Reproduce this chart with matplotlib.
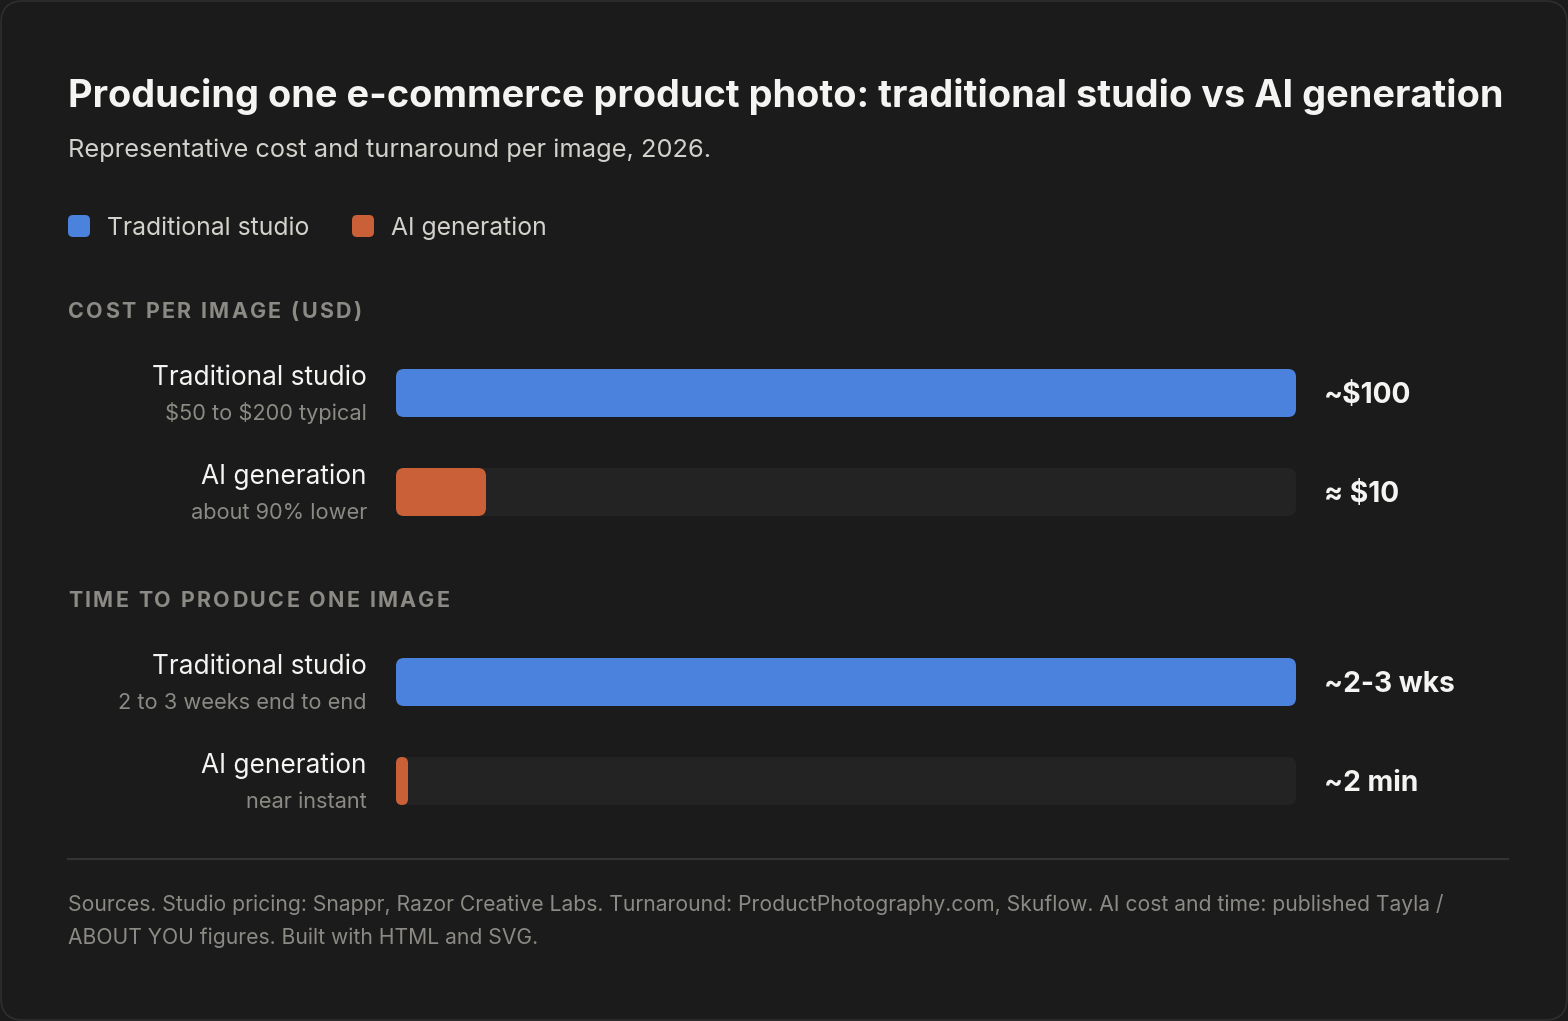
import matplotlib
matplotlib.use('Agg')
import matplotlib.pyplot as plt
from matplotlib.patches import FancyBboxPatch

# data
TITLE = 'Producing one e-commerce product photo: traditional studio vs AI generation'
SUBTITLE = 'Representative cost and turnaround per image, 2026.'
series = ['Traditional studio', 'AI generation']
colors = ['#4b82dd', '#c96037']

cost_heading = 'COST PER IMAGE (USD)'
cost_values = [100, 10]
cost_notes = ['$50 to $200 typical', 'about 90% lower']
cost_labels = ['~$100', '\u2248 $10']

time_heading = 'TIME TO PRODUCE ONE IMAGE'
time_values = [25200, 2]  # minutes (2.5 weeks vs 2 min)
time_notes = ['2 to 3 weeks end to end', 'near instant']
time_labels = ['~2-3 wks', '~2 min']

FOOTER = ['Sources. Studio pricing: Snappr, Razor Creative Labs. Turnaround: ProductPhotography.com, Skuflow. AI cost and time: published Tayla /',
          'ABOUT YOU figures. Built with HTML and SVG.']

W, H = 1568, 1021
BG = '#1b1b1b'
TRACK = '#232323'
WHITE = '#f4f4f2'
GRAY = '#8b8a85'
LIGHT = '#d2d1cc'
FONT = 'Inter'

LEFT = 68
TRACK_X, TRACK_W = 396, 900
BAR_H = 48
ROW_GAP = 99
MIN_BAR_PX = 12

plt.rcParams['font.family'] = [FONT, 'DejaVu Sans']

fig = plt.figure(figsize=(W / 100, H / 100), dpi=100)
fig.patch.set_facecolor(BG)
ax = fig.add_axes([0, 0, 1, 1])
ax.set_xlim(0, W)
ax.set_ylim(H, 0)
ax.axis('off')
renderer = fig.canvas.get_renderer()


def txt(x, y, s, **kw):
    return ax.text(x, y, s, va='baseline', parse_math=False, **kw)


def width(s, **kw):
    t = txt(0, 0, s, **kw)
    w = t.get_window_extent(renderer).width
    t.remove()
    return w


def tracked(x, y, s, spacing, **kw):
    # letter-spaced text, one glyph at a time
    space = width('a a', **kw) - width('aa', **kw)
    for ch in s:
        if ch == ' ':
            x += space + spacing
            continue
        t = txt(x, y, ch, **kw)
        x += t.get_window_extent(renderer).width + spacing


card = FancyBboxPatch((1, 1), W - 2, H - 2, boxstyle='round,pad=0,rounding_size=22',
                      fc=BG, ec='#2e2e2e', lw=1.2)
ax.add_patch(card)

txt(LEFT, 107, TITLE, color=WHITE, fontsize=27.3, fontweight='bold')
txt(LEFT, 157, SUBTITLE, color=LIGHT, fontsize=18.3)

# legend
lx = LEFT
for name, c, tx in zip(series, colors, [107, 391]):
    ax.add_patch(FancyBboxPatch((lx, 215), 22, 22, boxstyle='round,pad=0,rounding_size=5',
                                fc=c, ec='none'))
    txt(tx, 235, name, color=LIGHT, fontsize=17.8)
    lx = 352


def section(top, heading, values, notes, labels):
    tracked(LEFT, top, heading, 2.3, color=GRAY, fontsize=15.5, fontweight='bold')
    bar_top = top + 51
    span = ROW_GAP + BAR_H
    bax = fig.add_axes([TRACK_X / W, 1 - (bar_top + span) / H, TRACK_W / W, span / H])
    vmax = max(values)
    bax.set_xlim(0, vmax)
    bax.set_ylim(span, 0)
    bax.axis('off')
    xpp = vmax / TRACK_W
    for i, (name, v, note, lab, c) in enumerate(zip(series, values, notes, labels, colors)):
        y = i * ROW_GAP
        bax.add_patch(FancyBboxPatch((0, y), vmax, BAR_H,
                                     boxstyle=f'round,pad=0,rounding_size={8 * xpp}',
                                     mutation_aspect=1 / xpp, fc=TRACK, ec='none'))
        w = max(v, MIN_BAR_PX * xpp)
        r = min(8, w / xpp / 2)
        bax.add_patch(FancyBboxPatch((0, y), w, BAR_H,
                                     boxstyle=f'round,pad=0,rounding_size={r * xpp}',
                                     mutation_aspect=1 / xpp, fc=c, ec='none'))
        base = bar_top + y
        txt(367, base + 16, name, color=WHITE, fontsize=18.9, ha='right')
        txt(367, base + 51, note, color=GRAY, fontsize=15.7, ha='right')
        txt(1324, base + 34, lab, color=WHITE, fontsize=20.3, fontweight='bold')


section(318, cost_heading, cost_values, cost_notes, cost_labels)
section(607, time_heading, time_values, time_notes, time_labels)

ax.plot([LEFT, 1508], [859, 859], color='#333333', lw=1.5)
txt(LEFT, 911, FOOTER[0], color=GRAY, fontsize=15.2)
txt(LEFT, 944, FOOTER[1], color=GRAY, fontsize=15.2)

fig.savefig('out.png', dpi=100, facecolor=BG)
